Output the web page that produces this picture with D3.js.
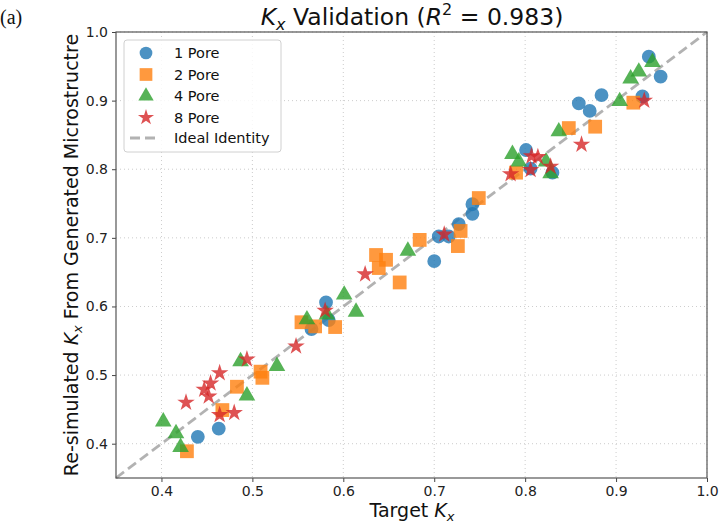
<!DOCTYPE html>
<html><head><meta charset="utf-8">
<script src="https://cdn.jsdelivr.net/npm/d3@7"></script>
<style>body{margin:0;background:#fff}svg{display:block}</style>
</head><body>
<svg id="c" width="720" height="526"></svg>
<script>
const xTicks = [0.4,0.5,0.6,0.7,0.8,0.9,1.0];
const yTicks = [0.4,0.5,0.6,0.7,0.8,0.9,1.0];
const seriesNames = ["1 Pore","2 Pore","4 Pore","8 Pore"];
const onePoreX = [0.440,0.463,0.565,0.581,0.584,0.700,0.705,0.716,0.727,0.742,0.742,0.801,0.806,0.830,0.859,0.871,0.884,0.929,0.936,0.949];
const onePoreY = [0.410,0.422,0.567,0.606,0.580,0.666,0.702,0.702,0.720,0.749,0.735,0.828,0.801,0.795,0.896,0.885,0.908,0.906,0.964,0.935];
const twoPoreX = [0.428,0.467,0.483,0.509,0.511,0.554,0.569,0.591,0.636,0.647,0.639,0.662,0.684,0.726,0.729,0.749,0.790,0.848,0.877,0.919];
const twoPoreY = [0.389,0.449,0.483,0.505,0.496,0.577,0.571,0.570,0.675,0.668,0.656,0.635,0.697,0.688,0.710,0.758,0.795,0.860,0.862,0.897];
const fourPoreX = [0.402,0.416,0.421,0.487,0.494,0.527,0.560,0.582,0.601,0.614,0.671,0.786,0.793,0.823,0.828,0.837,0.904,0.916,0.925,0.940];
const fourPoreY = [0.432,0.415,0.395,0.520,0.470,0.513,0.581,0.588,0.617,0.592,0.681,0.822,0.811,0.811,0.794,0.855,0.899,0.932,0.942,0.956];
const eightPoreX = [0.427,0.447,0.452,0.454,0.464,0.464,0.480,0.494,0.548,0.580,0.624,0.711,0.784,0.806,0.807,0.814,0.828,0.862,0.931];
const eightPoreY = [0.460,0.479,0.469,0.488,0.503,0.442,0.445,0.523,0.542,0.594,0.647,0.705,0.793,0.799,0.819,0.818,0.804,0.836,0.900];
const identity = [0.35, 1.0];

const colors = ["#1f77b4","#ff7f0e","#2ca02c","#d62728"];
const symbols = [d3.symbolCircle, d3.symbolSquare, d3.symbolTriangle, d3.symbolStar];
const sizes = [150, 190, 120, 95];
const xs = [onePoreX, twoPoreX, fourPoreX, eightPoreX];
const ys = [onePoreY, twoPoreY, fourPoreY, eightPoreY];

const svg = d3.select("#c");
const L = 116, R = 707, T = 32, B = 478;
const x = d3.scaleLinear().domain([0.35,1.0]).range([L,R]);
const y = d3.scaleLinear().domain([0.35,1.0]).range([B,T]);
const font = "DejaVu Sans, sans-serif";

// grid
const g = svg.append("g");
g.selectAll(".gx").data(xTicks).join("line")
  .attr("x1",d=>x(d)).attr("x2",d=>x(d)).attr("y1",T).attr("y2",B)
  .attr("stroke","#b0b0b0").attr("stroke-width",0.8).attr("stroke-dasharray","1,3").attr("opacity",0.8);
g.selectAll(".gy").data(yTicks).join("line")
  .attr("y1",d=>y(d)).attr("y2",d=>y(d)).attr("x1",L).attr("x2",R)
  .attr("stroke","#b0b0b0").attr("stroke-width",0.8).attr("stroke-dasharray","1,3").attr("opacity",0.8);

// identity line
svg.append("line")
  .attr("x1",x(identity[0])).attr("y1",y(identity[0])).attr("x2",x(identity[1])).attr("y2",y(identity[1]))
  .attr("stroke","#999").attr("stroke-width",2.8).attr("stroke-dasharray","10,5").attr("opacity",0.75);

// points
seriesNames.forEach((n,i)=>{
  const data = xs[i].map((v,j)=>[v, ys[i][j]]);
  svg.append("g").selectAll("path").data(data).join("path")
    .attr("d", d3.symbol().type(symbols[i]).size(sizes[i]))
    .attr("transform", d=>`translate(${x(d[0])},${y(d[1])})`)
    .attr("fill", colors[i]).attr("fill-opacity",0.8);
});

// axes
const xa = svg.append("g").attr("transform",`translate(0,${B})`)
  .call(d3.axisBottom(x).tickValues(xTicks).tickFormat(d3.format(".1f")).tickSize(4).tickPadding(4));
const ya = svg.append("g").attr("transform",`translate(${L},0)`)
  .call(d3.axisLeft(y).tickValues(yTicks).tickFormat(d3.format(".1f")).tickSize(4).tickPadding(4));
[xa,ya].forEach(a=>{
  a.select(".domain").remove();
  a.selectAll("text").attr("font-family",font).attr("font-size",14).attr("fill","#222");
  a.selectAll("line").attr("stroke","#444");
});
svg.append("rect").attr("x",L).attr("y",T).attr("width",R-L).attr("height",B-T)
  .attr("fill","none").attr("stroke","#555").attr("stroke-width",1.2);

// title
const title = svg.append("text").attr("x",412).attr("y",25).attr("text-anchor","middle")
  .attr("font-family",font).attr("font-size",23.5).attr("fill","#111");
title.append("tspan").attr("font-style","italic").text("K");
title.append("tspan").attr("font-style","italic").attr("font-size",16).attr("dy",5).text("x");
title.append("tspan").attr("dy",-5).text(" Validation (");
title.append("tspan").attr("font-style","italic").text("R");
title.append("tspan").attr("font-size",16).attr("dy",-10).text("2");
title.append("tspan").attr("dy",10).text(" = 0.983)");

svg.append("text").attr("x",0).attr("y",24).attr("font-family","Liberation Serif, Times New Roman, serif")
  .attr("font-size",20).attr("fill","#111").text("(a)");

// x label
const xl = svg.append("text").attr("x",412).attr("y",517).attr("text-anchor","middle")
  .attr("font-family",font).attr("font-size",19).attr("fill","#111");
xl.append("tspan").text("Target ");
xl.append("tspan").attr("font-style","italic").text("K");
xl.append("tspan").attr("font-style","italic").attr("font-size",13).attr("dy",4).text("x");

// y label
const yl = svg.append("text").attr("transform",`translate(78,${(T+B)/2}) rotate(-90)`).attr("text-anchor","middle")
  .attr("font-family",font).attr("font-size",19).attr("fill","#111");
yl.append("tspan").text("Re-simulated ");
yl.append("tspan").attr("font-style","italic").text("K");
yl.append("tspan").attr("font-style","italic").attr("font-size",13).attr("dy",4).text("x");
yl.append("tspan").attr("dy",-4).text(" From Generated Microstructre");

// legend
const lg = svg.append("g").attr("transform","translate(124,40)");
lg.append("rect").attr("width",157).attr("height",112).attr("rx",3)
  .attr("fill","#fff").attr("fill-opacity",0.85).attr("stroke","#d0d0d0");
seriesNames.forEach((n,i)=>{
  const yy = 13 + i*21.5;
  lg.append("path").attr("d", d3.symbol().type(symbols[i]).size(sizes[i]*0.85))
    .attr("transform",`translate(${22},${yy})`).attr("fill",colors[i]).attr("fill-opacity",0.8);
  lg.append("text").attr("x",50).attr("y",yy+5).attr("font-family",font).attr("font-size",14.5)
    .attr("fill","#111").text(n);
});
lg.append("line").attr("x1",6).attr("x2",34).attr("y1",98).attr("y2",98)
  .attr("stroke","#999").attr("stroke-width",2.8).attr("stroke-dasharray","10,5").attr("opacity",0.75);
lg.append("text").attr("x",50).attr("y",103).attr("font-family",font).attr("font-size",14.5)
  .attr("fill","#111").text("Ideal Identity");
</script>
</body></html>
